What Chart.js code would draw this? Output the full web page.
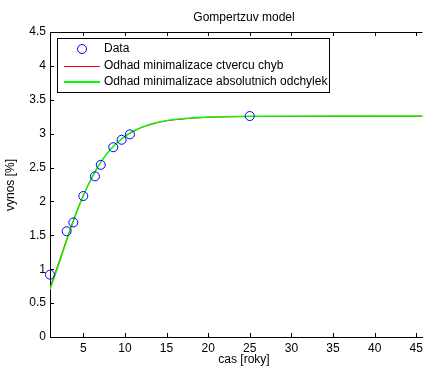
<!DOCTYPE html>
<html>
<head>
<meta charset="utf-8">
<script src="https://cdn.jsdelivr.net/npm/chart.js@4"></script>
<style>
  html, body { margin: 0; padding: 0; background: #fff; }
  #wrap { width: 428px; height: 367px; }
</style>
</head>
<body>
<div id="wrap"><canvas id="chart" width="428" height="367"></canvas></div>
<script>
// measured data points
const dataX = [1, 3, 3.8, 5, 6.4, 7.1, 8.6, 9.6, 10.6, 25];
const dataY = [0.92, 1.56, 1.69, 2.08, 2.37, 2.54, 2.80, 2.91, 2.99, 3.26];

// fitted curves
const curveX = [1, 2, 3, 4, 5, 6, 7, 8, 9, 10, 11, 12, 13, 14, 15, 16, 18, 20, 22, 25, 30, 35, 40, 45.75];
const lsqY = [0.73, 1.08, 1.44, 1.79, 2.09, 2.35, 2.56, 2.73, 2.86, 2.96, 3.03, 3.09, 3.13, 3.165, 3.19, 3.205, 3.228, 3.241, 3.247, 3.252, 3.255, 3.256, 3.256, 3.256];
const absY = [0.70, 1.05, 1.42, 1.77, 2.08, 2.34, 2.56, 2.73, 2.86, 2.96, 3.04, 3.095, 3.138, 3.17, 3.193, 3.211, 3.233, 3.246, 3.252, 3.257, 3.259, 3.26, 3.26, 3.26];

const xTicks = [5, 10, 15, 20, 25, 30, 35, 40, 45];
const yTicks = [0, 0.5, 1, 1.5, 2, 2.5, 3, 3.5, 4, 4.5];

const legendLabels = ["Data", "Odhad minimalizace ctvercu chyb", "Odhad minimalizace absolutnich odchylek"];
const titleText = "Gompertzuv model";
const xTitle = "cas [roky]";
const yTitle = "vynos [%]";

const FONT = "12px 'Liberation Sans', Arial, sans-serif";

const pts = (xs, ys) => xs.map((x, i) => ({ x: x, y: ys[i] }));

// matlab style frame, inward ticks, titles and legend
const framePlugin = {
  id: "frame",
  afterDatasetsDraw(chart) {
    const ctx = chart.ctx;
    const a = chart.chartArea;
    const xs = chart.scales.x;
    const ys = chart.scales.y;
    ctx.save();
    ctx.strokeStyle = "#000";
    ctx.lineWidth = 1;
    ctx.beginPath();
    ctx.moveTo(a.left, a.top + 0.5);
    ctx.lineTo(a.right, a.top + 0.5);
    xTicks.forEach((v) => {
      const px = Math.round(xs.getPixelForValue(v)) + 0.5;
      ctx.moveTo(px, a.bottom);
      ctx.lineTo(px, a.bottom - 4);
      ctx.moveTo(px, a.top);
      ctx.lineTo(px, a.top + 4);
    });
    yTicks.forEach((v) => {
      const py = Math.round(ys.getPixelForValue(v)) + 0.5;
      ctx.moveTo(a.left, py);
      ctx.lineTo(a.left + 4, py);
    });
    ctx.stroke();

    // legend
    const bx = 57, by = 38, bw = 272, bh = 54;
    ctx.fillStyle = "#fff";
    ctx.fillRect(bx, by, bw, bh);
    ctx.strokeRect(bx + 0.5, by + 0.5, bw, bh);
    const rows = [49, 66, 82];
    ctx.font = FONT;
    ctx.textBaseline = "middle";
    ctx.textAlign = "left";
    ctx.fillStyle = "#000";
    legendLabels.forEach((t, i) => ctx.fillText(t, 104, rows[i]));
    ctx.strokeStyle = "#0000ff";
    ctx.beginPath();
    ctx.arc(82, rows[0], 4.5, 0, Math.PI * 2);
    ctx.stroke();
    ctx.strokeStyle = "#ff0000";
    ctx.lineWidth = 1;
    ctx.beginPath();
    ctx.moveTo(64, rows[1] + 0.5);
    ctx.lineTo(100, rows[1] + 0.5);
    ctx.stroke();
    ctx.strokeStyle = "#00ff00";
    ctx.lineWidth = 2;
    ctx.beginPath();
    ctx.moveTo(64, rows[2]);
    ctx.lineTo(100, rows[2]);
    ctx.stroke();

    // titles
    ctx.fillStyle = "#000";
    ctx.textAlign = "center";
    ctx.fillText(titleText, 244, 18);
    ctx.fillText(xTitle, 244, 360);
    ctx.translate(11, 185);
    ctx.rotate(-Math.PI / 2);
    ctx.fillText(yTitle, 0, 0);
    ctx.restore();
  }
};

new Chart(document.getElementById("chart"), {
  type: "scatter",
  data: {
    datasets: [
      {
        label: legendLabels[0],
        data: pts(dataX, dataY),
        borderColor: "#0000ff",
        backgroundColor: "rgba(0,0,0,0)",
        borderWidth: 1,
        pointRadius: 4.5,
        clip: false,
        order: 0
      },
      {
        label: legendLabels[1],
        data: pts(curveX, lsqY),
        showLine: true,
        borderColor: "#ff0000",
        borderWidth: 1,
        pointRadius: 0,
        cubicInterpolationMode: "monotone",
        order: 2
      },
      {
        label: legendLabels[2],
        data: pts(curveX, absY),
        showLine: true,
        borderColor: "#00ff00",
        borderWidth: 1.4,
        pointRadius: 0,
        cubicInterpolationMode: "monotone",
        order: 1
      }
    ]
  },
  options: {
    responsive: false,
    animation: false,
    events: [],
    layout: { padding: { top: 32, right: 0, left: 0, bottom: 0 } },
    plugins: {
      legend: { display: false },
      tooltip: { enabled: false },
      title: { display: false }
    },
    scales: {
      x: {
        type: "linear",
        min: 1,
        max: 45.75,
        afterFit: (s) => { s.height = 30; },
        afterBuildTicks: (s) => { s.ticks = xTicks.map((v) => ({ value: v })); },
        grid: { display: false, drawTicks: false },
        border: { color: "#000", width: 1 },
        ticks: { color: "#000", padding: 4, maxRotation: 0, callback: (v) => String(v), font: { family: "'Liberation Sans', Arial", size: 12 } }
      },
      y: {
        min: 0,
        max: 4.5,
        afterFit: (s) => { s.width = 50; },
        afterBuildTicks: (s) => { s.ticks = yTicks.map((v) => ({ value: v })); },
        grid: { display: false, drawTicks: false },
        border: { color: "#000", width: 1 },
        ticks: { color: "#000", padding: 4, callback: (v) => String(v), font: { family: "'Liberation Sans', Arial", size: 12 } }
      }
    }
  },
  plugins: [framePlugin]
});
</script>
</body>
</html>
